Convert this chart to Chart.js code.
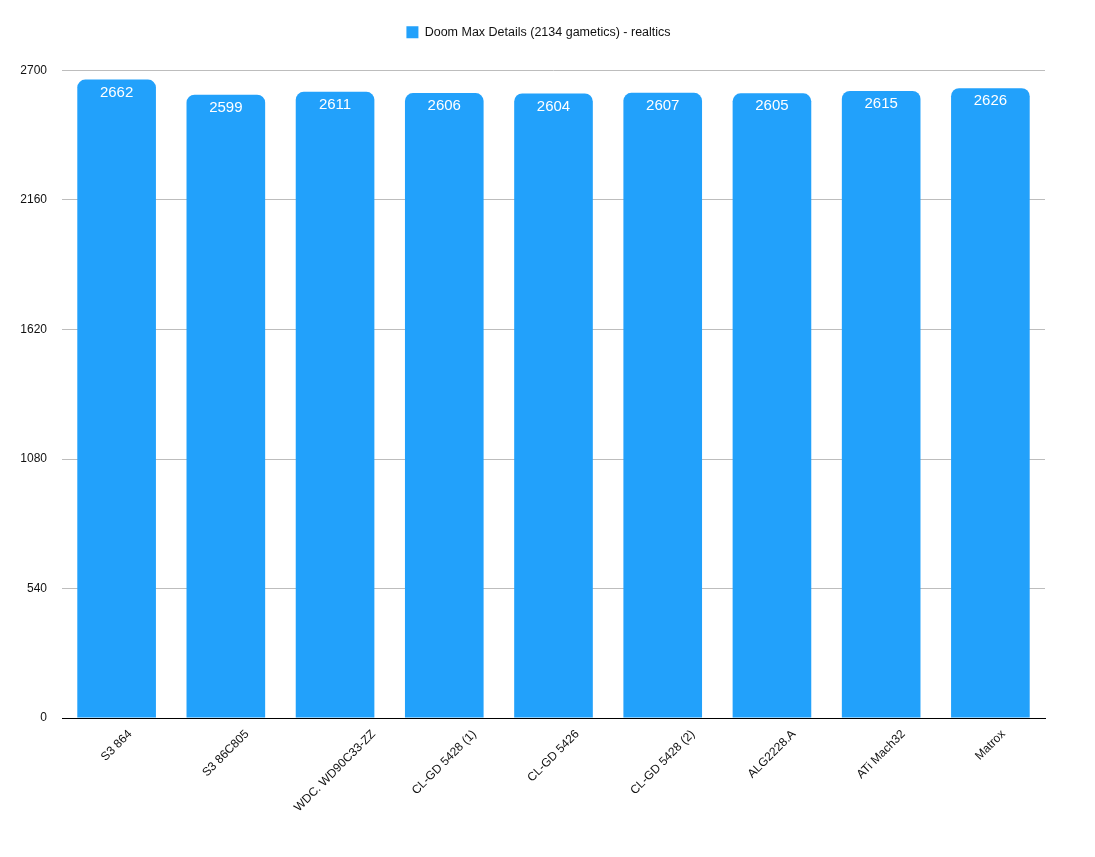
<!DOCTYPE html>
<html>
<head>
<meta charset="utf-8">
<script src="https://cdn.jsdelivr.net/npm/chart.js@4/dist/chart.umd.min.js"></script>
<style>
  html, body { margin: 0; padding: 0; background: #fff; }
  #wrap { width: 1095px; height: 857px; }
</style>
</head>
<body>
<div id="wrap"><canvas id="chart"></canvas></div>
<script>
const categories = ['S3 864', 'S3 86C805', 'WDC. WD90C33-ZZ', 'CL-GD 5428 (1)', 'CL-GD 5426',
  'CL-GD 5428 (2)', 'ALG2228.A', 'ATi Mach32', 'Matrox'];
const realtics = [2662, 2599, 2611, 2606, 2604, 2607, 2605, 2615, 2626];
const seriesName = 'Doom Max Details (2134 gametics) - realtics';
const yTicks = [0, 540, 1080, 1620, 2160, 2700];

const FONT = '"Liberation Sans", Arial, Helvetica, sans-serif';
const BLUE = '#22a1fb';

// extra room under the legend, and nudge it right
const legendSpace = {
  id: 'legendSpace',
  beforeInit(chart) {
    const fit = chart.legend.fit;
    chart.legend.fit = function () {
      fit.bind(chart.legend)();
      this.height += 22;
    };
  },
  afterLayout(chart) {
    chart.legend.left += 16;
    chart.legend.right += 16;
  }
};

// value labels inside the top of each bar
const barValues = {
  id: 'barValues',
  afterDatasetsDraw(chart) {
    const ctx = chart.ctx;
    const meta = chart.getDatasetMeta(0);
    ctx.save();
    ctx.fillStyle = '#ffffff';
    ctx.font = '15px ' + FONT;
    ctx.textAlign = 'center';
    ctx.textBaseline = 'middle';
    meta.data.forEach((bar, i) => {
      ctx.fillText(String(realtics[i]), bar.x, bar.y + 13);
    });
    ctx.restore();
  }
};

// x labels rotated 45deg about their centre, hanging below the axis
const xLabels = {
  id: 'xLabels',
  afterDraw(chart) {
    const ctx = chart.ctx;
    const scale = chart.scales.x;
    const top = scale.top + 10;
    const h = 12;
    ctx.save();
    ctx.fillStyle = '#111';
    ctx.font = '12px ' + FONT;
    ctx.textAlign = 'center';
    ctx.textBaseline = 'middle';
    categories.forEach((label, i) => {
      const x = scale.getPixelForTick(i);
      const w = ctx.measureText(label).width;
      const cy = top + (w + h) * Math.SQRT1_2 / 2;
      ctx.save();
      ctx.translate(x, cy);
      ctx.rotate(-Math.PI / 4);
      ctx.fillText(label, 0, 0);
      ctx.restore();
    });
    ctx.restore();
  }
};

new Chart(document.getElementById('chart'), {
  type: 'bar',
  data: {
    labels: categories,
    datasets: [{
      label: seriesName,
      data: realtics,
      backgroundColor: BLUE,
      borderRadius: 8,
      borderSkipped: 'start',
      categoryPercentage: 0.72,
      barPercentage: 1
    }]
  },
  options: {
    responsive: true,
    maintainAspectRatio: false,
    animation: false,
    devicePixelRatio: 1,
    layout: { padding: { top: 16, right: 50, left: 0, bottom: 0 } },
    plugins: {
      legend: {
        position: 'top',
        labels: {
          boxWidth: 12,
          boxHeight: 12,
          padding: 10,
          color: '#111',
          font: { family: FONT, size: 12.5 }
        }
      },
      tooltip: { enabled: false }
    },
    scales: {
      x: {
        grid: { display: false, drawTicks: false },
        border: { display: true, color: '#000', width: 1 },
        ticks: { display: false },
        afterFit(scale) { scale.height = 139; }
      },
      y: {
        min: 0,
        max: 2700,
        grid: { color: '#bdbdbd', lineWidth: 1, drawTicks: false },
        border: { display: false },
        afterBuildTicks(scale) { scale.ticks = yTicks.map(v => ({ value: v })); },
        ticks: {
          color: '#111',
          font: { family: FONT, size: 12 },
          padding: 15,
          callback: v => String(v)
        },
        afterFit(scale) { scale.width = 62; }
      }
    }
  },
  plugins: [legendSpace, barValues, xLabels]
});
</script>
</body>
</html>
